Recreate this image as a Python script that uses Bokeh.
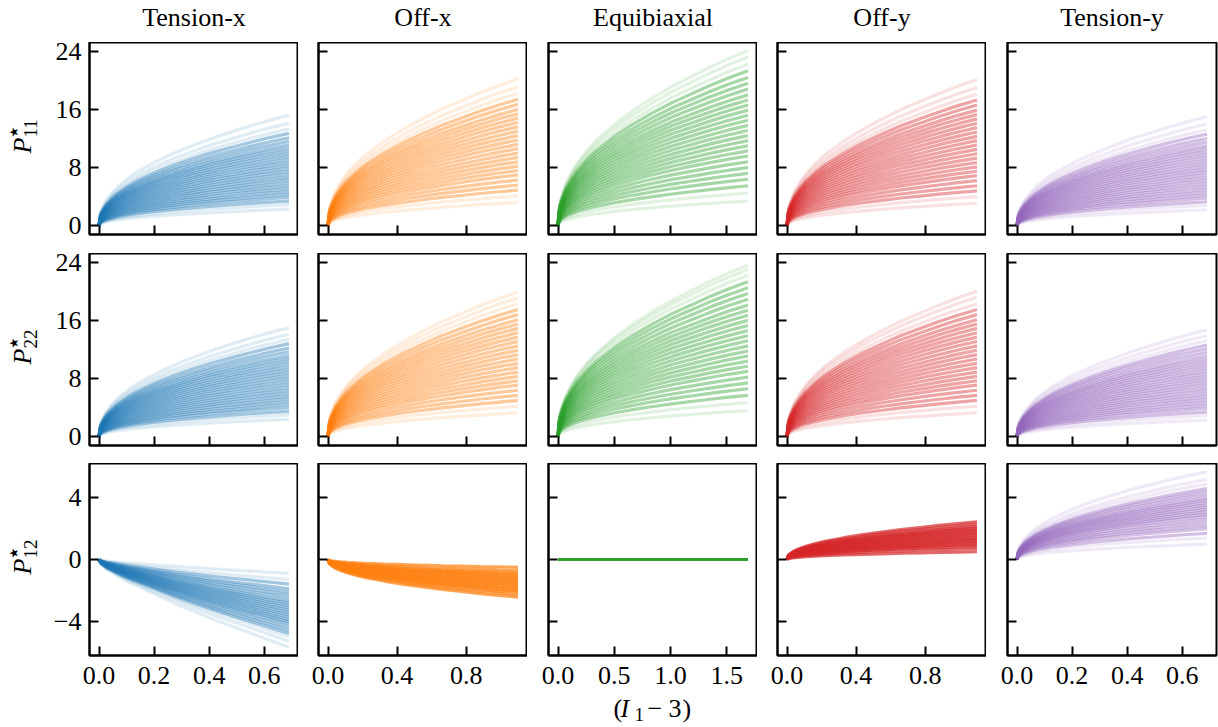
import numpy as np
from bokeh.plotting import figure
from bokeh.layouts import gridplot, column, row
from bokeh.models import Range1d, FixedTicker, PrintfTickFormatter
from bokeh.core.properties import value
from bokeh.embed import file_html
from bokeh.resources import INLINE

# ---------------- data ----------------
COL_TITLES = ["Tension-x", "Off-x", "Equibiaxial", "Off-y", "Tension-y"]
COLORS = ["#1f77b4", "#ff7f0e", "#2ca02c", "#d62728", "#9467bd"]
X_MAX = [0.69, 1.10, 1.69, 1.10, 0.69]
X_TICKS = [[0.0, 0.2, 0.4, 0.6], [0.0, 0.4, 0.8], [0.0, 0.5, 1.0, 1.5],
           [0.0, 0.4, 0.8], [0.0, 0.2, 0.4, 0.6]]
Y_TICKS_NORMAL = [0, 8, 16, 24]
Y_TICKS_SHEAR = [-4, 0, 4]
Y_TICK_LABELS_SHEAR = {-4: "\u22124", 0: "0", 4: "4"}
ROW_SUBSCRIPTS = ["11", "22", "12"]

# normalised curve shape (fraction of the loading path -> fraction of end value)
PROFILE_FRAC = [0, 0.005, 0.01, 0.02, 0.04, 0.07, 0.1, 0.15, 0.2, 0.3, 0.4,
                0.5, 0.6, 0.7, 0.8, 0.9, 1.0]
PROFILE_A = [0, 0.09, 0.13, 0.17, 0.235, 0.30, 0.355, 0.425, 0.485, 0.58,
             0.66, 0.73, 0.795, 0.85, 0.905, 0.955, 1.0]
PROFILE_B = [0, 0.03, 0.05, 0.07, 0.11, 0.15, 0.19, 0.25, 0.30, 0.40, 0.50,
             0.59, 0.68, 0.76, 0.84, 0.92, 1.0]

# end values of the individual curves, per column
P11_END = [
    [2.3, 2.9, 3.4, 3.9, 4.3, 4.7, 5.1, 5.5, 5.9, 6.3, 6.7, 7.1, 7.5, 7.9, 8.3,
     8.7, 9.1, 9.5, 9.9, 10.3, 10.7, 11.1, 11.6, 12.1, 12.7, 13.3, 14.1, 15.2],
    [3.2, 4.1, 4.9, 5.6, 6.3, 7.0, 7.6, 8.2, 8.8, 9.4, 10.0, 10.6, 11.2, 11.8,
     12.4, 13.0, 13.6, 14.2, 14.8, 15.4, 16.0, 16.7, 17.4, 18.2, 19.1, 20.2],
    [3.4, 4.5, 5.5, 6.4, 7.2, 8.0, 8.8, 9.6, 10.3, 11.0, 11.7, 12.4, 13.1, 13.8,
     14.5, 15.2, 15.9, 16.6, 17.3, 18.0, 18.8, 19.6, 20.4, 21.3, 22.2, 23.2, 24.1],
    [3.1, 4.0, 4.8, 5.5, 6.2, 6.9, 7.5, 8.1, 8.7, 9.3, 9.9, 10.5, 11.1, 11.7,
     12.3, 12.9, 13.5, 14.1, 14.7, 15.3, 15.9, 16.6, 17.3, 18.1, 19.0, 20.1],
    [2.2, 2.8, 3.3, 3.8, 4.2, 4.6, 5.0, 5.4, 5.8, 6.2, 6.6, 7.0, 7.4, 7.8, 8.2,
     8.6, 9.0, 9.4, 9.8, 10.2, 10.6, 11.0, 11.5, 12.0, 12.6, 13.2, 14.0, 15.0],
]
P22_END = [
    [2.4, 3.0, 3.5, 4.0, 4.4, 4.8, 5.2, 5.6, 6.0, 6.4, 6.8, 7.2, 7.6, 8.0, 8.4,
     8.8, 9.2, 9.6, 10.0, 10.4, 10.8, 11.2, 11.7, 12.2, 12.8, 13.4, 14.1, 15.0],
    [3.3, 4.2, 5.0, 5.7, 6.4, 7.1, 7.7, 8.3, 8.9, 9.5, 10.1, 10.7, 11.3, 11.9,
     12.5, 13.1, 13.7, 14.3, 14.9, 15.5, 16.1, 16.8, 17.5, 18.3, 19.1, 19.9],
    [3.6, 4.7, 5.7, 6.6, 7.4, 8.2, 9.0, 9.7, 10.4, 11.1, 11.8, 12.5, 13.2, 13.9,
     14.6, 15.3, 16.0, 16.7, 17.4, 18.1, 18.9, 19.7, 20.5, 21.3, 22.2, 23.0, 23.6],
    [3.3, 4.2, 5.0, 5.7, 6.4, 7.1, 7.7, 8.3, 8.9, 9.5, 10.1, 10.7, 11.3, 11.9,
     12.5, 13.1, 13.7, 14.3, 14.9, 15.5, 16.1, 16.8, 17.5, 18.3, 19.2, 20.0],
    [2.3, 2.9, 3.4, 3.9, 4.3, 4.7, 5.1, 5.5, 5.9, 6.3, 6.7, 7.1, 7.5, 7.9, 8.3,
     8.7, 9.1, 9.5, 9.9, 10.3, 10.7, 11.1, 11.6, 12.1, 12.6, 13.2, 13.9, 14.7],
]
P12_END = [
    [-0.9, -1.3, -1.6, -1.9, -2.1, -2.3, -2.5, -2.7, -2.85, -3.0, -3.15, -3.3,
     -3.45, -3.6, -3.75, -3.9, -4.05, -4.2, -4.4, -4.6, -4.8, -5.0, -5.3, -5.7],
    [-0.5, -0.7, -0.85, -0.95, -1.05, -1.15, -1.25, -1.35, -1.45, -1.55, -1.65,
     -1.75, -1.85, -1.95, -2.05, -2.15, -2.3, -2.45],
    [0.0, 0.0, 0.0, 0.0],
    [0.5, 0.7, 0.85, 0.95, 1.05, 1.15, 1.25, 1.35, 1.45, 1.55, 1.65, 1.75, 1.85,
     1.95, 2.05, 2.15, 2.3, 2.45],
    [1.0, 1.4, 1.7, 2.0, 2.2, 2.4, 2.6, 2.8, 2.95, 3.1, 3.25, 3.4, 3.55, 3.7,
     3.85, 4.0, 4.2, 4.4, 4.6, 4.9, 5.2, 5.7],
]
P12_PROFILE = ["B", "A", "A", "A", "A"]

# ---------------- layout / style ----------------
FONT = "Liberation Serif"
FS = "26px"
FS_SUB = "19px"
W, H = 1218, 727
FW, FH = 209, 192
STRIP_L = 44          # left strip (y labels)
TOP_H = 42            # top strip (titles)
FRAME_LEFT = [89, 318, 548, 777, 1007]
BORDER_LEFT = [89 - STRIP_L, 20, 21, 20, 21]
BORDER_BOTTOM = [19, 18, 41]
ROW_CENTER = [138, 349, 559]
Y_RANGES = [(-1.2, 25.2), (-1.2, 25.2), (-6.23, 6.23)]


def strip(width, height, x0, x1, y0, y1):
    s = figure(frame_width=width, frame_height=height,
               x_range=Range1d(x0, x1), y_range=Range1d(y0, y1),
               x_axis_type=None, y_axis_type=None,
               output_backend="svg", toolbar_location=None,
               min_border=0)
    s.outline_line_color = None
    s.background_fill_color = "white"
    s.border_fill_color = "white"
    s.grid.visible = False
    return s


def put_text(s, x, y, txt, size=FS, style="normal", align="left",
             baseline="alphabetic", angle=0.0, font=FONT):
    s.text(x=[x], y=[y], text=[txt], angle=angle, text_font=value(font),
           text_font_size=value(size), text_font_style=value(style),
           text_align=value(align), text_baseline=value(baseline),
           text_color="black")


rows_data = [P11_END, P22_END, P12_END]

grid = []
for r in range(3):
    grow = []
    for c in range(5):
        m = X_MAX[c] * 0.05
        p = figure(frame_width=FW, frame_height=FH,
                   x_range=Range1d(-m, X_MAX[c] + m),
                   y_range=Range1d(*Y_RANGES[r]),
                   output_backend="svg", toolbar_location=None,
                   min_border_left=BORDER_LEFT[c],
                   min_border_right=(2 if c == 4 else 0),
                   min_border_top=0,
                   min_border_bottom=BORDER_BOTTOM[r])
        p.background_fill_color = "white"
        p.border_fill_color = "white"
        p.outline_line_color = "black"
        p.outline_line_width = 2
        p.grid.visible = False

        # curves
        xs = [X_MAX[c] * f for f in PROFILE_FRAC]
        if r < 2:
            prof = PROFILE_A
        else:
            prof = PROFILE_A if P12_PROFILE[c] == "A" else PROFILE_B
        ends = rows_data[r][c]
        n = len(ends)
        ys = [[e * v for v in prof] for e in ends]
        if all(e == 0 for e in ends):
            lw, alphas = 3, [1.0] * n
        elif r == 2 and c in (1, 3):
            lw, alphas = 3, [0.7] * n
        else:
            lw = 3.2
            alphas = [0.14 if (i < 2 or i >= n - 3) else 0.42 for i in range(n)]
        p.multi_line(xs=[xs] * n, ys=ys, line_color=COLORS[c],
                     line_alpha=alphas, line_width=lw)

        # axes
        for ax in (p.xaxis[0], p.yaxis[0]):
            ax.major_tick_in = 9
            ax.major_tick_out = 0
            ax.major_tick_line_width = 2
            ax.minor_tick_line_color = None
            ax.axis_line_width = 2
            ax.major_label_text_font = FONT
            ax.major_label_text_color = "black"
        p.xaxis.ticker = FixedTicker(ticks=X_TICKS[c])
        p.xaxis.formatter = PrintfTickFormatter(format="%.1f")
        if r == 2:
            p.yaxis.ticker = FixedTicker(ticks=Y_TICKS_SHEAR)
            p.yaxis.major_label_overrides = Y_TICK_LABELS_SHEAR
        else:
            p.yaxis.ticker = FixedTicker(ticks=Y_TICKS_NORMAL)
        if r == 2:
            p.xaxis.major_label_text_font_size = FS
            p.xaxis.major_label_standoff = 11
        else:
            p.xaxis.major_label_text_font_size = "1px"
            p.xaxis.major_label_text_color = None
            p.xaxis.major_label_standoff = 0
        if c == 0:
            p.yaxis.major_label_text_font_size = FS
            p.yaxis.major_label_standoff = 8
        else:
            p.yaxis.major_label_text_font_size = "1px"
            p.yaxis.major_label_text_color = None
            p.yaxis.major_label_standoff = 0
        grow.append(p)
    grid.append(grow)

gp = gridplot(grid, toolbar_location=None)
grid_h = 3 * FH + sum(BORDER_BOTTOM)
BOT_H = H - TOP_H - grid_h

# top strip: column titles (pixel coordinates, y downward)
top = strip(W, TOP_H, 0, W, TOP_H, 0)
for c in range(5):
    put_text(top, FRAME_LEFT[c] + FW / 2, 17, COL_TITLES[c], align="center")

# left strip: y labels P*_ij
left = strip(STRIP_L, grid_h, 0, STRIP_L, TOP_H + grid_h, TOP_H)
for r in range(3):
    cy = ROW_CENTER[r]
    put_text(left, 22, cy + 15, "P", style="italic", angle=np.pi / 2)
    put_text(left, 13, cy - 1, "\u2605", size="12px", baseline="middle",
             angle=np.pi / 2, font="DejaVu Sans")
    put_text(left, 30, cy - 1, ROW_SUBSCRIPTS[r], size=FS_SUB,
             angle=np.pi / 2)

# bottom strip: x label (I_1 - 3)
y_top = TOP_H + grid_h
bot = strip(W, BOT_H, 0, W, H, y_top)
put_text(bot, 613, 708, "(")
put_text(bot, 620, 708, "I", style="italic")
put_text(bot, 634, 714, "1", size=FS_SUB)
put_text(bot, 647, 708, "\u2212")
put_text(bot, 668, 708, "3")
put_text(bot, 682, 708, ")")

layout = column(top, row(left, gp), bot)

open("out.html", "w").write(file_html(layout, INLINE))
